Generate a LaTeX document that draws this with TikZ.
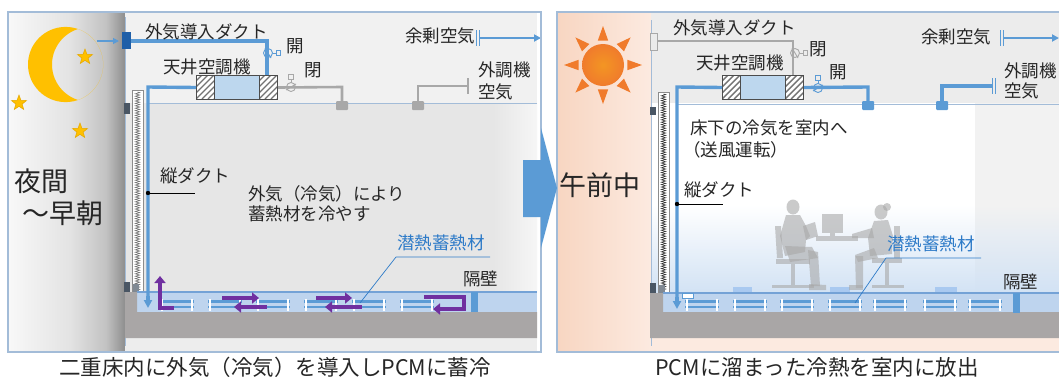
\documentclass[tikz,border=0pt]{standalone}
\usepackage{fontspec}
\newfontfamily\jp{Noto Sans CJK JP}
\usetikzlibrary{decorations.pathmorphing,arrows.meta,shapes.geometric,calc}

\definecolor{txt}{HTML}{262626}
\definecolor{frameblue}{HTML}{A3BCD8}
\definecolor{ductblue}{HTML}{5B9BD5}
\definecolor{inletblue}{HTML}{1F5FA8}
\definecolor{pipegray}{HTML}{A8A8A8}
\definecolor{ceilL}{HTML}{F1F1F1}
\definecolor{roomL}{HTML}{E6E6E6}
\definecolor{roomLlight}{HTML}{F6F6F6}
\definecolor{ceilR}{HTML}{ECECEC}
\definecolor{bandblue}{HTML}{BED4EE}
\definecolor{bandline}{HTML}{74A2D6}
\definecolor{slabgray}{HTML}{A9A6A6}
\definecolor{pcmpurple}{HTML}{7030A0}
\definecolor{moonyellow}{HTML}{FFC000}
\definecolor{moonedge}{HTML}{E5A800}
\definecolor{sunorange}{HTML}{F07B2C}
\definecolor{peachA}{HTML}{F8D6C2}
\definecolor{peachB}{HTML}{FCEAE0}
\definecolor{unitblue}{HTML}{BDD7EE}
\definecolor{labelblue}{HTML}{2E7BC8}
\definecolor{glow}{HTML}{D2E2F4}
\definecolor{outletblue}{HTML}{A9C9F0}
\definecolor{silhouette}{HTML}{A8A8A8}
\definecolor{winstrip}{HTML}{F2F2F2}
\definecolor{darkpost}{HTML}{4A5664}
\definecolor{nA}{HTML}{F8F8F8}
\definecolor{nB}{HTML}{E3E3E3}
\definecolor{nC}{HTML}{C2C2C2}
\definecolor{nD}{HTML}{8E8E8E}

\tikzset{
  lbl/.style={font=\jp\fontsize{17.5bp}{19bp}\selectfont, text=txt, inner sep=0, anchor=west},
  bigtxt/.style={font=\jp\fontsize{27bp}{30bp}\selectfont, text=txt, inner sep=0, anchor=west},
  capt/.style={font=\jp\fontsize{21.5bp}{23bp}\selectfont, text=txt, inner sep=0},
  duct/.style={ductblue, line width=3.4bp},
  gpipe/.style={pipegray, line width=2.6bp},
  wallline/.style={frameblue, line width=0.9bp},
  purp/.style={pcmpurple, line width=4.4bp, line join=miter, -{Triangle[length=7bp,width=11bp]}},
  unitbox/.style={draw=black!70, line width=1bp, minimum height=24bp, inner sep=0, anchor=north west},
  hatch/.pic={
    \begin{scope}
      \clip (0,0) rectangle (18,24);
      \foreach \k in {-30,-24,...,18}
        \draw[black!55, line width=1.4bp] (\k,24) -- (\k+24,0);
    \end{scope}
  },
  valve/.pic={
    \draw[line width=0.9bp] (0,0) circle (4.5);
    \draw[line width=0.9bp] (-5,3) -- (5,-3);
    \draw[line width=0.9bp] (0,-4.5) -- (0,-8);
    \draw[line width=0.9bp] (-2.2,-8) rectangle (2.2,-12.4);
  },
  floorpanel/.pic={
    \draw[ductblue, line width=3bp] (0,0) -- (34,0);
    \draw[ductblue, line width=1.2bp] (0,6) -- (34,6);
    \fill[white] (1,-2) rectangle (2.8,10);
    \fill[white] (31.2,-2) rectangle (33,10);
  },
  starshape/.style={star, star points=5, star point ratio=2.4, fill=moonyellow, draw=moonedge, line width=0.5bp, minimum size=16bp, inner sep=0},
}

\begin{document}
\begin{tikzpicture}[x=1bp, y=-1bp]
\useasboundingbox (0,0) rectangle (1059,379);
\fill[white] (0,0) rectangle (1059,379);

% ================= night panel =================
\shade[left color=nA, right color=nB] (9,13) rectangle (70,351);
\shade[left color=nB, right color=nC] (70,13) rectangle (106,351);
\shade[left color=nC, right color=nD] (106,13) rectangle (125,351);
\fill[ceilL] (125,13) rectangle (537,103);
\fill[roomL] (125,103) rectangle (537,292);
\shade[left color=roomL, right color=roomLlight] (493,103) rectangle (537,292);
\fill[black!7] (125,338) rectangle (537,351);

% moon and stars
\begin{scope}
  \clip (65.6,64.5) circle (37.6);
  \fill[moonyellow, even odd rule] (65.6,64.5) circle (37.6) (89.2,64.5) circle (37.2);
\end{scope}
\node[starshape] (star1) at (85,57) {};
\node[starshape] (star2) at (19,103) {};
\node[starshape] (star3) at (80,131) {};

\node[bigtxt] (night) at (14,181) {夜間};
\node[bigtxt] (dawn) at (22,213) {～早朝};

% wall line, posts and insulated column
\draw[wallline] (125,17) -- (125,346);
\fill[white] (132,90) rectangle (143,292);
\draw[black!45, line width=0.5bp] (132,90) rectangle (143,292);
\draw[black!55, line width=0.6bp, decorate, decoration={zigzag, segment length=2.4bp, amplitude=2.2bp}] (137.5,92) -- (137.5,290);
\fill[darkpost] (124,103) rectangle (130,114);
\fill[darkpost] (124,282) rectangle (130,292);
\fill[darkpost!70] (133,284) rectangle (139,292);

% ceiling line
\draw[wallline] (148,103) -- (537,103);

% raised floor
\fill[bandblue] (137,292) rectangle (537,312);
\draw[bandline, line width=1.1bp] (137,292) -- (537,292);
\fill[slabgray] (125,292) -- (137,292) -- (137,312) -- (537,312) -- (537,338) -- (125,338) -- cycle;
\foreach \px in {160,208,256,304,352,400} \pic at (\px,301) {floorpanel};
\fill[ductblue] (471,292) rectangle (478,312);

% fresh-air inlet and duct
\coordinate (inL) at (131,41);
\fill[inletblue] (122,32) rectangle (131,49);
\draw[ductblue, line width=1.1bp, -{Triangle[length=6bp,width=6bp]}] (97,41) -- (119,41);
\draw[duct] (inL) -- (267,41) -- (267,75);
\pic[ductblue, rotate=-90] at (268,53) {valve};

% ceiling unit
\node[unitbox, fill=white, minimum width=18bp] (unitLa) at (196,75) {};
\pic at (196,75) {hatch};
\node[unitbox, fill=unitblue, minimum width=45bp] (unitLb) at (214,75) {};
\node[unitbox, fill=white, minimum width=18bp] (unitLc) at (259,75) {};
\pic at (259,75) {hatch};
\draw[black!70, line width=1bp] (196,75) rectangle (277,99) (214,75) -- (214,99) (259,75) -- (259,99);

% vertical duct
\draw[duct] (unitLa.west) -- (148,87) -- (148,300);
\draw[ductblue, -{Triangle[length=8bp,width=8bp]}, line width=3.4bp] (148,296) -- (148,308);

% closed return pipes
\draw[gpipe] (unitLc.east) -- (342,87) -- (342,104);
\pic[pipegray] at (291,87) {valve};
\fill[pipegray, rounded corners=1bp] (336,101) rectangle (348,110);
\fill[pipegray, rounded corners=1bp] (412,101) rectangle (424,110);
\draw[gpipe] (418,104) -- (418,86) -- (467,86);
\draw[pipegray, line width=1.2bp] (468,78) -- (468,94);

% surplus air outlet
\draw[ductblue, line width=1bp] (476,30) -- (476,46) (479,30) -- (479,46);
\draw[ductblue, line width=2.6bp, -{Triangle[length=7bp,width=7bp]}] (479,38) -- (541,38);

% purple air flow in the floor cavity
\draw[purp] (174,308) -- (160,308) -- (160,276);
\draw[purp] (222,298) -- (259,298);
\draw[purp] (267,307) -- (234,307);
\draw[purp] (316,298) -- (352,298);
\draw[purp] (362,307) -- (325,307);
\draw[purp] (424,297) -- (464,297) -- (464,309) -- (433,309);

% labels
\node[lbl] (lduct) at (145,32) {外気導入ダクト};
\node[lbl] (lunit) at (163,67) {天井空調機};
\node[lbl, anchor=center] (lopen) at (295,46) {開};
\node[lbl, anchor=center] (lshut) at (313,70) {閉};
\node[lbl] (lsurplus) at (405,36) {余剰空気};
\node[lbl] (loa1) at (478,70) {外調機};
\node[lbl] (loa2) at (478,92) {空気};
\node[lbl] (lvert) at (160,176) {縦ダクト};
\fill[black] (148,193) circle (2.2);
\draw[black, line width=0.8bp] (148,193) -- (195,193);
\node[lbl] (lnote1) at (248,194) {外気（冷気）により};
\node[lbl] (lnote2) at (248,214) {蓄熱材を冷やす};
\node[lbl, text=labelblue] (lpcm) at (397,243) {潜熱蓄熱材};
\draw[labelblue, line width=0.7bp] (490,257) -- (396,257) -- (360,303);
\node[lbl] (lwall) at (463,279) {隔壁};

\draw[frameblue, line width=1.2bp] (8,12) rectangle (541,352);

% ================= morning panel =================
\shade[left color=peachA, right color=peachB] (558,13) rectangle (651,351);
\fill[ceilR] (651,13) rectangle (1059,103);
\fill[white] (651,103) rectangle (1059,293);
\fill[winstrip] (975,103) rectangle (1059,293);
\shade[top color=white, bottom color=glow] (651,205) rectangle (975,293);
\shade[top color=winstrip, bottom color=glow] (975,205) rectangle (1059,293);
\fill[peachB] (651,338) rectangle (1059,351);

% sun
\coordinate (sun) at (603,65);
\foreach \a in {0,45,...,315}
  \fill[sunorange] ($(sun)+(\a:39)$) -- ($(sun)+(\a+12:25)$) -- ($(sun)+(\a-12:25)$) -- cycle;
\shade[inner color=sunorange!80!yellow, outer color=sunorange] (sun) circle (21);

\node[bigtxt] (morning) at (559,185) {午前中};

% wall line, posts and insulated column
\draw[wallline] (651,20) -- (651,346);
\fill[white] (658,92) rectangle (669,293);
\draw[black!45, line width=0.5bp] (658,92) rectangle (669,293);
\draw[black!80, line width=0.6bp, decorate, decoration={zigzag, segment length=2.4bp, amplitude=2.2bp}] (663.5,94) -- (663.5,291);
\fill[darkpost] (650,107) rectangle (656,115);
\fill[darkpost] (650,283) rectangle (656,293);
\fill[darkpost!70] (659,285) rectangle (665,293);

% ceiling line
\draw[wallline] (677,104) -- (1059,104);

% outlets on the floor
\fill[outletblue] (733,287) rectangle (752,293);
\fill[outletblue] (830,287) rectangle (850,293);
\fill[outletblue] (935,287) rectangle (957,293);

% raised floor
\fill[bandblue] (663,293) rectangle (1059,312);
\draw[bandline, line width=1.1bp] (663,293) -- (1059,293);
\fill[slabgray] (650,293) -- (663,293) -- (663,312) -- (1059,312) -- (1059,338) -- (650,338) -- cycle;
\foreach \px in {685,733,780,828,873,923,968} \pic at (\px,301) {floorpanel};
\fill[ductblue] (1013,293) rectangle (1020,313);
\draw[ductblue, line width=0.8bp, fill=white] (682,293) rectangle (693,298);

% office workers
\begin{scope}[fill=silhouette, fill opacity=0.6]
  % seated man with a document
  \fill (775,226) -- (781,226) -- (783,258) -- (777,258) -- cycle;
  \fill (776,259) rectangle (810,264);
  \fill (791,264) rectangle (795,285);
  \fill (772,285) rectangle (814,288);
  \fill (793,207) ellipse (6.5 and 7.5);
  \fill (786,215) -- (800,215) -- (806,226) -- (810,236) -- (806,240) -- (805,252) -- (785,256) -- (780,236) -- cycle;
  \fill (785,246) -- (812,247) -- (818,258) -- (790,262) -- cycle;
  \fill (808,250) -- (818,252) -- (820,286) -- (811,286) -- cycle;
  \fill (809,284) -- (826,285) -- (826,290) -- (809,290) -- cycle;
  \fill (803,226) -- (815,222) -- (818,236) -- (806,240) -- cycle;
  % desk and monitor
  \fill (816,236) rectangle (858,241);
  \fill (822,214) rectangle (843,233);
  \fill (830,233) rectangle (835,236);
  % seated woman
  \fill (894,226) -- (900,226) -- (900,258) -- (894,258) -- cycle;
  \fill (872,258) rectangle (902,263);
  \fill (885,263) rectangle (889,285);
  \fill (872,285) rectangle (904,288);
  \fill (881,212) ellipse (6.5 and 7.5);
  \fill (887,207) circle (4);
  \fill (874,221) -- (888,220) -- (893,236) -- (892,254) -- (870,256) -- (868,238) -- cycle;
  \fill (872,228) -- (852,234) -- (852,238) -- (874,238) -- cycle;
  \fill (874,248) -- (878,258) -- (858,262) -- (855,255) -- cycle;
  \fill (855,256) -- (863,256) -- (863,288) -- (856,288) -- cycle;
  \fill (849,285) -- (863,285) -- (863,290) -- (849,290) -- cycle;
\end{scope}

% closed fresh-air inlet and duct
\coordinate (inR) at (657,41);
\draw[pipegray, line width=0.8bp, fill=black!8] (650,33) rectangle (657,50);
\draw[gpipe] (inR) -- (793,41) -- (793,75);
\pic[pipegray, rotate=-90] at (795,53) {valve};

% ceiling unit
\node[unitbox, fill=white, minimum width=18bp] (unitRa) at (722,75) {};
\pic at (722,75) {hatch};
\node[unitbox, fill=unitblue, minimum width=45bp] (unitRb) at (740,75) {};
\node[unitbox, fill=white, minimum width=18bp] (unitRc) at (785,75) {};
\pic at (785,75) {hatch};
\draw[black!70, line width=1bp] (722,75) rectangle (803,99) (740,75) -- (740,99) (785,75) -- (785,99);

% vertical duct, supply side
\draw[duct] (unitRa.west) -- (677,87) -- (677,300);
\draw[ductblue, -{Triangle[length=8bp,width=8bp]}, line width=3.4bp] (677,297) -- (677,309);

% open return pipes
\draw[duct] (unitRc.east) -- (868,87) -- (868,104);
\pic[ductblue] at (818,88) {valve};
\fill[ductblue, rounded corners=1bp] (862,101) rectangle (874,110);
\fill[ductblue, rounded corners=1bp] (936,101) rectangle (948,110);
\draw[duct] (942,104) -- (942,86) -- (992,86);
\draw[ductblue, line width=1bp] (992,78) -- (992,94) (995,78) -- (995,94);

% surplus air outlet
\draw[ductblue, line width=1bp] (1000,30) -- (1000,46) (1003,30) -- (1003,46);
\draw[ductblue, line width=2.6bp, -{Triangle[length=7bp,width=7bp]}] (1003,38) -- (1059,38);

% labels
\node[lbl] (rduct) at (673,28) {外気導入ダクト};
\node[lbl] (runit) at (696,63) {天井空調機};
\node[lbl, anchor=center] (rshut) at (818,49) {閉};
\node[lbl, anchor=center] (ropen) at (838,72) {開};
\node[lbl] (rsurplus) at (921,37) {余剰空気};
\node[lbl] (roa1) at (1004,71) {外調機};
\node[lbl] (roa2) at (1004,91) {空気};
\node[lbl] (rnote1) at (690,128) {床下の冷気を室内へ};
\node[lbl] (rnote2) at (683,150) {（送風運転）};
\node[lbl] (rvert) at (684,190) {縦ダクト};
\fill[black] (677,204) circle (2.2);
\draw[black, line width=0.8bp] (677,204) -- (723,204);
\node[lbl, text=labelblue] (rpcm) at (887,244) {潜熱蓄熱材};
\draw[labelblue, line width=0.7bp] (981,258) -- (886,258) -- (855,303);
\node[lbl] (rwall) at (1003,282) {隔壁};

\draw[frameblue, line width=1.2bp] (557,12) rectangle (1065,352);

% transition arrow between the panels
\fill[ductblue] (523,160) -- (541,160) -- (541,128) -- (557,188) -- (541,248) -- (541,217) -- (523,217) -- cycle;

% captions
\node[capt] (capL) at (275,367) {二重床内に外気（冷気）を導入しPCMに蓄冷};
\node[capt] (capR) at (817,367) {PCMに溜まった冷熱を室内に放出};
\end{tikzpicture}
\end{document}
